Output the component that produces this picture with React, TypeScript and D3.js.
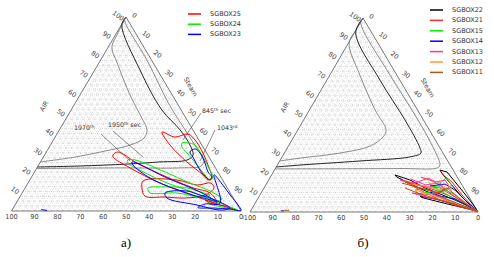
import React from "react";
import * as d3 from "d3";

type P = [number, number]; // [AIR %, Steam %]; third (bottom) = 100 - AIR - Steam

const AIR_TICKS = [10, 20, 30, 40, 50, 60, 70, 80, 90, 100];
const STEAM_TICKS = [0, 10, 20, 30, 40, 50, 60, 70, 80, 90];
const BOTTOM_TICKS = [100, 90, 80, 70, 60, 50, 40, 30, 20, 10, 0];

// ---------- panel a) reference curves ----------
const A_CURVE_1970: P[] = [[100, 0], [90.7, 0.7], [84.5, 1.6], [75.3, 8.8], [59.8, 21.8], [47.9, 32.9], [41.8, 38.2], [37.6, 39.0], [34.0, 34.7], [30.9, 25.3], [27.8, 13.8], [25.3, 0]];
const A_CURVE_1950: P[] = [[100, 0], [95.9, 0.2], [72.7, 19.7], [52.1, 39.5], [41.8, 52.6], [34.0, 60.8], [28.9, 64.7], [26.3, 63.4], [25.3, 52.1], [24.2, 38.3], [23.2, 18.3], [22.7, 0]];
const A_CURVE_1043: P[] = [[100, 0], [98.5, 0.1], [77.8, 20.2], [54.6, 41.6], [41.8, 54.8], [31.4, 65.6], [26.3, 70.8], [23.2, 71.0], [22.2, 62.4], [22.2, 36.2], [21.9, 0]];

// ---------- panel a) series ----------
const SGBOX25_L1: P[] = [[40.7, 45.3], [38.1, 52.2], [39.7, 57.1], [36.6, 61.7], [29.9, 68.5], [21.1, 75.9], [17.5, 78.6], [16.0, 77.6], [18.6, 74.2], [25.3, 63.8], [34.0, 52.1]];
const SGBOX25_L2: P[] = [[28.9, 29.8], [30.4, 31.2], [24.7, 42.4], [17.5, 59.0], [11.9, 73.2], [9.3, 81.9], [4.1, 87.5], [6.7, 78.8], [9.3, 71.9], [14.4, 57.5], [22.2, 40.6], [27.8, 30.4]];
const SGBOX25_L3: P[] = [[15.5, 49.6], [16.0, 64.1], [13.4, 74.2], [14.4, 79.7], [11.9, 82.3], [8.2, 80.2], [6.7, 72.2], [7.2, 63.3], [7.7, 54.3], [11.9, 50.9]];
const SGBOX25_L4: P[] = [[5.7, 81.5], [3.1, 89.3], [1.0, 95.6], [0.5, 97.6], [2.6, 91.7], [4.1, 84.4]];

const SGBOX24_L1: P[] = [[35.1, 56.8], [35.1, 59.4], [34.0, 63.0], [27.8, 69.6], [21.1, 75.9], [17.5, 79.1], [16.0, 78.5], [18.6, 75.0], [23.7, 69.0], [29.9, 61.6], [33.0, 57.8]];
const SGBOX24_L2: P[] = [[26.3, 37.6], [26.3, 40.7], [20.1, 56.9], [14.4, 70.6], [10.3, 81.4], [6.2, 88.6], [5.2, 86.1], [9.3, 75.3], [14.9, 59.4], [21.1, 45.4], [24.7, 38.4]];
const SGBOX24_L3: P[] = [[11.9, 53.6], [12.4, 61.6], [11.9, 70.5], [9.8, 77.3], [8.2, 82.4], [7.2, 78.6], [9.3, 67.5], [9.3, 55.7], [10.8, 54.1]];
const SGBOX24_L4: P[] = [[5.7, 83.7], [3.1, 91.5], [0.3, 98.6], [2.1, 90.7], [4.1, 83.6]];

const SGBOX23_L1: P[] = [[30.4, 62.6], [32.0, 64.0], [29.9, 67.2], [24.7, 72.0], [20.1, 75.6], [17.5, 78.6], [16.0, 78.5], [17.0, 76.7], [21.1, 71.6], [27.8, 65.2]];
const SGBOX23_L2: P[] = [[25.3, 39.9], [17.0, 59.3], [9.8, 77.3], [4.6, 87.2], [5.7, 83.7], [9.8, 69.8], [17.0, 51.9], [23.7, 41.1]];
const SGBOX23_L3: P[] = [[9.3, 62.3], [10.3, 71.3], [8.2, 78.0], [5.7, 85.8], [1.5, 94.4], [0.5, 90.6], [3.1, 79.3], [6.7, 64.4]];
const SGBOX23_L4: P[] = [[18.6, 79.0], [13.9, 84.8], [7.7, 91.8], [3.1, 97.2], [0.3, 99.9], [1.0, 94.7], [1.5, 87.9], [1.8, 80.3], [3.6, 82.5], [4.1, 88.8]];
const SGBOX23_L5: P[] = [[0.7, 12.6], [0.3, 15.3]];

// ---------- panel б) reference curves ----------
const B_CURVE_1: P[] = [[100, 0], [93.8, 0], [87.1, 0.3], [70.6, 13.2], [52.6, 28.8], [42.3, 38.7], [38.7, 39.2], [34.0, 35.8], [30.4, 24.4], [27.8, 8.2], [26.3, 0]];
const B_CURVE_2: P[] = [[100, 0], [92.3, 0.6], [68.0, 23.3], [47.4, 44.5], [33.0, 58.2], [30.4, 59.9], [28.4, 56.1], [26.3, 35.2], [24.2, 9.9], [23.2, 0]];
const B_CURVE_3: P[] = [[100, 0], [97.4, 0.3], [70.6, 26.4], [50.0, 47.6], [34.5, 62.7], [24.2, 71.3], [22.7, 70.8], [22.4, 54.7], [22.2, 0]];

// ---------- panel б) series ----------
const SGBOX22_L1: P[] = [[21.6, 72.6], [20.6, 76.2], [12.4, 86.0], [4.6, 95.1], [0.3, 99.7], [1.5, 97.5], [7.7, 89.2], [14.9, 80.4], [19.1, 75.2]];
const SGBOX22_L2: P[] = [[19.1, 54.1], [16.5, 62.0], [12.4, 70.6], [9.3, 78.7], [6.2, 86.8], [2.6, 95.2], [0.3, 99.7], [1.8, 95.6], [5.4, 85.0], [12.1, 68.6], [18.0, 55.5]];
const SGBOX22_L3: P[] = [[8.2, 70.5], [6.7, 77.8], [4.6, 85.4], [2.6, 93.0], [0.3, 99.7], [2.0, 93.5], [4.0, 85.0], [7.5, 71.5]];
const SGBOX21_L1: P[] = [[19.6, 74.5], [15.5, 80.9], [8.8, 88.6], [1.0, 98.6], [4.1, 92.2], [8.2, 83.6], [11.3, 75.5], [13.9, 67.7], [15.5, 60.3], [11.3, 69.0], [6.2, 80.3], [2.6, 90.8], [0.3, 99.8]];
const SGBOX21_L2: P[] = [[18.0, 66.0], [16.0, 72.0], [13.0, 78.0], [9.0, 84.0], [5.0, 91.0], [0.3, 99.8]];
const SGBOX15_L1: P[] = [[14.9, 76.0], [17.5, 77.3], [13.9, 81.7], [11.3, 79.9], [10.3, 73.9], [9.3, 69.1], [11.3, 66.8], [12.4, 70.6], [13.4, 75.8], [8.8, 85.6], [3.1, 95.0], [0.3, 99.8]];
const SGBOX15_L2: P[] = [[15.5, 70.5], [13.0, 74.0], [10.0, 80.0], [6.5, 87.0], [0.3, 99.8]];
const SGBOX14_L1: P[] = [[13.4, 72.3], [14.4, 78.4], [11.3, 84.3], [6.2, 91.2], [0.3, 99.8], [3.1, 94.1], [6.7, 86.6], [8.2, 79.3], [10.3, 73.9]];
const SGBOX14_L2: P[] = [[0.6, 13.2], [0.6, 14.6]];
const SGBOX13_L1: P[] = [[16.5, 57.6], [14.9, 65.0], [17.5, 69.4], [15.5, 73.9], [16.5, 77.4], [12.4, 81.6], [10.3, 78.2], [8.8, 72.4], [9.8, 66.2], [7.2, 75.4], [5.2, 85.2], [2.6, 93.0], [0.3, 99.8], [6.2, 89.0], [12.4, 77.2], [13.4, 67.9], [16.5, 57.6]];
const SGBOX13_L2: P[] = [[17.0, 62.0], [14.0, 70.0], [15.0, 76.0], [11.0, 80.0], [9.0, 76.0], [6.0, 84.0], [3.0, 92.0], [0.3, 99.8]];
const SGBOX12_L1: P[] = [[14.4, 63.0], [13.4, 70.1], [11.3, 77.7], [14.4, 79.7], [10.3, 83.5], [6.2, 89.9], [0.3, 99.8], [4.6, 87.6], [8.2, 77.1], [11.3, 66.8]];
const SGBOX12_L2: P[] = [[0.5, 14.8], [0.5, 16.0]];
const SGBOX11_L1: P[] = [[14.9, 59.3], [12.4, 68.4], [9.8, 77.6], [12.4, 80.3], [8.8, 85.6], [4.6, 92.0], [0.3, 99.8], [3.1, 90.6], [6.2, 80.3], [9.3, 70.0], [12.4, 61.8]];
const SGBOX11_L2: P[] = [[0.9, 14.6], [0.9, 16.6], [0.3, 16.6]];
const SGBOX11_L3: P[] = [[16.0, 60.5], [13.0, 66.0], [11.0, 74.0], [7.0, 82.0], [4.0, 90.0], [0.3, 99.8]];

const LEFT_NAMES = ["SGBOX25", "SGBOX24", "SGBOX23"];
const LEFT_COLORS = ["#ff0000", "#00ee00", "#0000ff"];
const RIGHT_NAMES = ["SGBOX22", "SGBOX21", "SGBOX15", "SGBOX14", "SGBOX13", "SGBOX12", "SGBOX11"];
const RIGHT_COLORS = ["#000000", "#ff2a2a", "#00ee00", "#0000ff", "#ff3399", "#ff9933", "#b0580f"];

type Curve = { pts: P[]; color: string; width: number };
type Loop = { pts: P[]; closed: boolean; smooth: boolean };
type Series = { color: string; loops: Loop[] };

const FONT = "DejaVu Sans, Verdana, sans-serif";

function makeProj(bl: [number, number], br: [number, number], apex: [number, number]) {
  const y = d3.scaleLinear().domain([0, 100]).range([bl[1], apex[1]]);
  const xa = d3.scaleLinear().domain([0, 100]).range([0, apex[0] - bl[0]]);
  const xs = d3.scaleLinear().domain([0, 100]).range([0, br[0] - bl[0]]);
  return (p: P): [number, number] => [bl[0] + xa(p[0]) + xs(p[1]), y(p[0])];
}

function Panel(props: {
  bl: [number, number]; br: [number, number]; apex: [number, number];
  curves: Curve[]; series: Series[];
  names: string[]; colors: string[];
  legX: number; legY: number; legDy: number;
  airOff: number;
  caption: string; capX: number;
}) {
  const { bl, br, apex } = props;
  const proj = makeProj(bl, br, apex);
  const grid: [P, P][] = [];
  for (let v = 2.5; v < 100; v += 2.5) {
    grid.push([[v, 0], [v, 100 - v]]);
    grid.push([[0, v], [100 - v, v]]);
    grid.push([[0, 100 - v], [100 - v, 0]]);
  }
  const smooth = d3.line<P>().x((p) => proj(p)[0]).y((p) => proj(p)[1]).curve(d3.curveCatmullRom.alpha(0.5));
  const smoothClosed = d3.line<P>().x((p) => proj(p)[0]).y((p) => proj(p)[1]).curve(d3.curveCatmullRomClosed.alpha(0.5));
  const lin = d3.line<P>().x((p) => proj(p)[0]).y((p) => proj(p)[1]);
  const linClosed = d3.line<P>().x((p) => proj(p)[0]).y((p) => proj(p)[1]).curve(d3.curveLinearClosed);
  const frame = [apex, bl, br];
  return (
    <g>
      {grid.map((g, i) => {
        const a = proj(g[0]);
        const b = proj(g[1]);
        return <line key={i} x1={a[0]} y1={a[1]} x2={b[0]} y2={b[1]} stroke="#a8a8a8" strokeWidth={0.5} strokeDasharray="0.8 1.2" />;
      })}
      <path d={"M" + frame.map((p) => p.join(",")).join("L") + "Z"} fill="none" stroke="#555" strokeWidth={0.8} />
      {AIR_TICKS.map((t) => {
        const [x, y] = proj([t, 0]);
        return (
          <text key={"a" + t} x={x - 8} y={y - 1} fontSize={6.6} fontFamily={FONT} fill="#444" textAnchor="middle" dominantBaseline="central" transform={`rotate(35 ${x - 8} ${y - 1})`}>{t}</text>
        );
      })}
      {STEAM_TICKS.map((t) => {
        const [x, y] = proj([100 - t, t]);
        return (
          <text key={"s" + t} x={x + 8.5} y={y - 1.5} fontSize={6.6} fontFamily={FONT} fill="#444" textAnchor="middle" dominantBaseline="central" transform={`rotate(35 ${x + 8.5} ${y - 1.5})`}>{t}</text>
        );
      })}
      {BOTTOM_TICKS.map((t) => {
        const [x, y] = proj([0, 100 - t]);
        return (
          <text key={"b" + t} x={x} y={y + 8} fontSize={6.6} fontFamily={FONT} fill="#444" textAnchor="middle">{t}</text>
        );
      })}
      {(() => {
        const [x, y] = proj([54, 0]);
        return <text x={x + props.airOff} y={y} fontSize={6.5} fontFamily={FONT} fill="#444" textAnchor="middle" dominantBaseline="central" transform={`rotate(-60 ${x + props.airOff} ${y})`}>AIR</text>;
      })()}
      {(() => {
        const [x, y] = proj([64, 36]);
        return <text x={x + 23} y={y} fontSize={6.5} fontFamily={FONT} fill="#444" textAnchor="middle" dominantBaseline="central" transform={`rotate(60 ${x + 23} ${y})`}>Steam</text>;
      })()}
      {props.curves.map((c, i) => (
        <path key={"c" + i} d={smooth(c.pts) || ""} fill="none" stroke={c.color} strokeWidth={c.width} />
      ))}
      {props.series.map((s, i) => (
        <g key={"s" + i}>
          {s.loops.map((l, j) => (
            <path key={j} d={(l.closed ? (l.smooth ? smoothClosed : linClosed) : (l.smooth ? smooth : lin))(l.pts) || ""} fill="none" stroke={s.color} strokeWidth={1} strokeLinejoin="round" />
          ))}
        </g>
      ))}
      {props.names.map((n, i) => (
        <g key={"l" + n}>
          <line x1={props.legX} x2={props.legX + 13} y1={props.legY + i * props.legDy} y2={props.legY + i * props.legDy} stroke={props.colors[i]} strokeWidth={1.5} />
          <text x={props.legX + 22} y={props.legY + i * props.legDy} fontSize={6.5} fontFamily={FONT} fill="#333" dominantBaseline="central">{n}</text>
        </g>
      ))}
      <text x={props.capX} y={247} fontSize={13} fontFamily="Liberation Serif, serif" fill="#000" textAnchor="middle">{props.caption}</text>
    </g>
  );
}

function Label(props: { x: number; y: number; main: string; sup: string; rest: string }) {
  return (
    <text x={props.x} y={props.y} fontSize={6.3} fontFamily={FONT} fill="#333">
      {props.main}
      <tspan fontSize={4.2} dy={-2.5}>{props.sup}</tspan>
      <tspan dy={2.5}>{props.rest}</tspan>
    </text>
  );
}

export default function App() {
  const leftCurves: Curve[] = [
    { pts: A_CURVE_1970, color: "#707070", width: 0.8 },
    { pts: A_CURVE_1950, color: "#222", width: 1.0 },
    { pts: A_CURVE_1043, color: "#707070", width: 0.8 },
  ];
  const sm = (pts: P[]): Loop => ({ pts, closed: true, smooth: true });
  const open = (pts: P[]): Loop => ({ pts, closed: false, smooth: false });
  const closed = (pts: P[]): Loop => ({ pts, closed: true, smooth: false });
  const leftSeries: Series[] = [
    { color: LEFT_COLORS[0], loops: [sm(SGBOX25_L1), sm(SGBOX25_L2), sm(SGBOX25_L3), sm(SGBOX25_L4)] },
    { color: LEFT_COLORS[1], loops: [sm(SGBOX24_L1), sm(SGBOX24_L2), sm(SGBOX24_L3), sm(SGBOX24_L4)] },
    { color: LEFT_COLORS[2], loops: [sm(SGBOX23_L1), sm(SGBOX23_L2), sm(SGBOX23_L3), sm(SGBOX23_L4), open(SGBOX23_L5)] },
  ];
  const rightCurves: Curve[] = [
    { pts: B_CURVE_1, color: "#707070", width: 0.8 },
    { pts: B_CURVE_2, color: "#222", width: 1.0 },
    { pts: B_CURVE_3, color: "#707070", width: 0.8 },
  ];
  const rightSeries: Series[] = [
    { color: RIGHT_COLORS[0], loops: [closed(SGBOX22_L1), closed(SGBOX22_L2), closed(SGBOX22_L3)] },
    { color: RIGHT_COLORS[1], loops: [open(SGBOX21_L1), open(SGBOX21_L2)] },
    { color: RIGHT_COLORS[2], loops: [open(SGBOX15_L1), open(SGBOX15_L2)] },
    { color: RIGHT_COLORS[3], loops: [open(SGBOX14_L1), open(SGBOX14_L2)] },
    { color: RIGHT_COLORS[4], loops: [open(SGBOX13_L1), open(SGBOX13_L2)] },
    { color: RIGHT_COLORS[5], loops: [open(SGBOX12_L1), open(SGBOX12_L2)] },
    { color: RIGHT_COLORS[6], loops: [open(SGBOX11_L1), open(SGBOX11_L2), open(SGBOX11_L3)] },
  ];
  return (
    <svg width={494} height={257} style={{ position: "absolute", left: 0, top: 0, background: "#fff" }}>
      <Panel bl={[11.5, 211]} br={[241, 211]} apex={[126, 17]} curves={leftCurves} series={leftSeries}
        names={LEFT_NAMES} colors={LEFT_COLORS} legX={188} legY={14} legDy={10.2} airOff={-29} caption="a)" capX={126} />
      <Panel bl={[250, 212]} br={[478, 212]} apex={[363, 18]} curves={rightCurves} series={rightSeries}
        names={RIGHT_NAMES} colors={RIGHT_COLORS} legX={430} legY={10} legDy={10.4} airOff={-26} caption="б)" capX={363} />
      <Label x={74} y={130} main="1970" sup="th" rest="" />
      <Label x={108} y={127} main="1950" sup="th" rest=" sec" />
      <Label x={202} y={113} main="845" sup="th" rest=" sec" />
      <Label x={217} y={130} main="1043" sup="rd" rest="" />
      <g stroke="#444" strokeWidth={0.6}>
        <line x1={101} y1={134} x2={130} y2={161} />
        <line x1={113} y1={131} x2={143} y2={157} />
        <line x1={201} y1={113} x2={183} y2={140} />
        <line x1={215} y1={130} x2={200} y2={161} />
      </g>
      <text x={242.5} y={219} fontSize={5.5} fontFamily={FONT} fill="#444">i</text>
    </svg>
  );
}
